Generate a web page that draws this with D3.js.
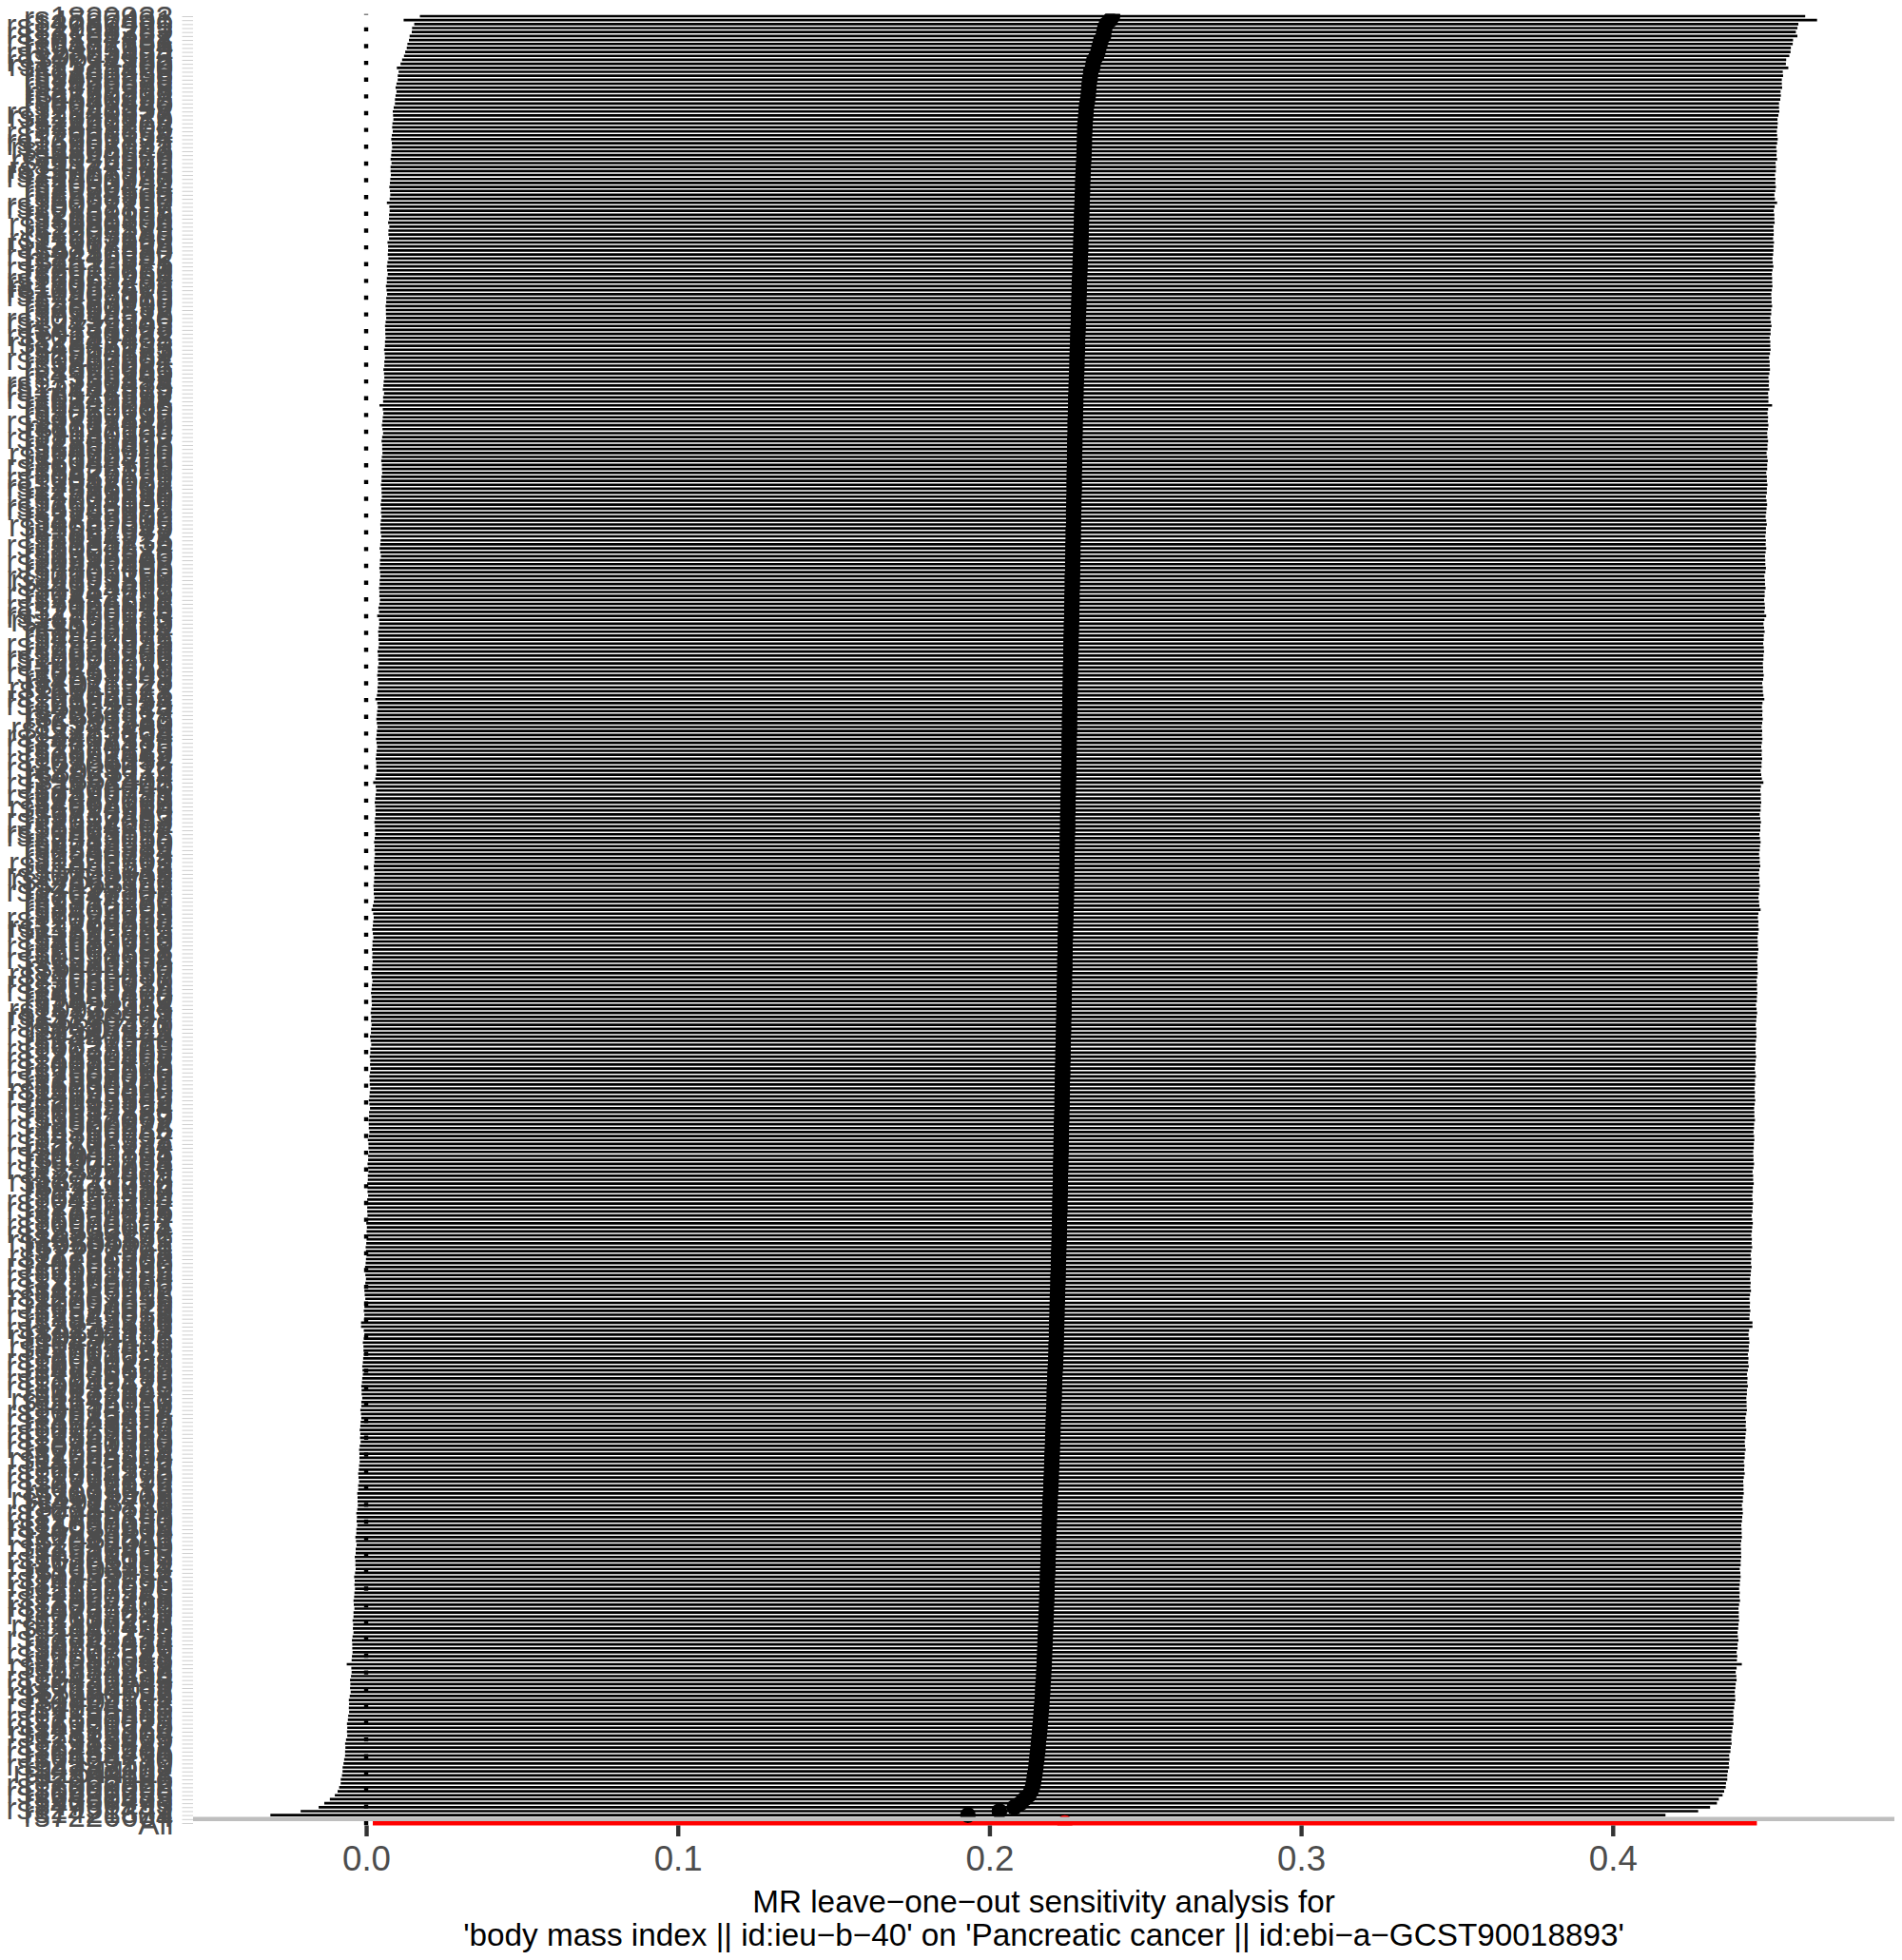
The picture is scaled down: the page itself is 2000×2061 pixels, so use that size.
<!DOCTYPE html>
<html>
<head>
<meta charset="utf-8">
<script src="https://d3js.org/d3.v7.min.js"></script>
<style>
  html, body { margin: 0; padding: 0; background: #fff; }
</style>
</head>
<body>
<svg id="chart" width="2000" height="2061"></svg>
<script>
// leave-one-out results, one entry per SNP, listed from the top of the plot down
const snps = `
rs1820933 rs4787491 rs12286929 rs1928295 rs13191362 rs7164727 rs10182181 rs6477694 rs2365389 rs12885454
rs9641123 rs17724992 rs11583200 rs7141420 rs2245368 rs9400239 rs2033529 rs1460676 rs2176598 rs1167827
rs2820292 rs9540493 rs6091540 rs7243357 rs12940622 rs11688816 rs2121279 rs1441264 rs7899106 rs17001654
rs2836754 rs13201877 rs16907751 rs11165643 rs6804842 rs3849570 rs11126666 rs9374842 rs11727676 rs13078960
rs12401738 rs1000940 rs2080454 rs2050134 rs2274536 rs1558902 rs6567160 rs13021737 rs10938397 rs2867125
rs7132908 rs3101336 rs11030104 rs1808579 rs2207139 rs7903146 rs11672660 rs13107325 rs3817334 rs4256980
rs12446632 rs2112347 rs1516725 rs12016871 rs2075650 rs9925964 rs16851483 rs17094222 rs11057405 rs10968576
rs17405819 rs2287019 rs3888190 rs2650492 rs7599312 rs9914578 rs10132280 rs12429545 rs7138803 rs4771122
rs10150332 rs2241423 rs11847697 rs4836133 rs1514175 rs2890652 rs10767664 rs3810291 rs1805081 rs6265
rs4929949 rs7359397 rs13130484 rs17782313 rs12444979 rs571312 rs10146997 rs6548238 rs1421085 rs9939609
rs8050136 rs3751812 rs17817449 rs1121980 rs7193144 rs9930506 rs12149832 rs1861868 rs2388405 rs6499640
rs11075990 rs7190492 rs8044769 rs16952520 rs3826169 rs1477196 rs10852521 rs2042031 rs17818902 rs12596638
rs4783819 rs7201850 rs1074631 rs12598109 rs16945088 rs2192872 rs3785909 rs4889606 rs11642015 rs9922047
rs1362572 rs2034278 rs7185735 rs13334214 rs8061518 rs2302673 rs1558840 rs10519302 rs4432486 rs7566605
rs2605100 rs10195252 rs11191560 rs4923461 rs2984618 rs10742752 rs1412239 rs7124681 rs17066846 rs2229616
rs12970134 rs17700633 rs11152213 rs663129 rs8089364 rs1942872 rs4450871 rs7227255 rs12955983 rs2331841
rs9636266 rs17066866 rs10871777 rs2229615 rs476828 rs10353201 rs7591849 rs4671328 rs1011527 rs11676272
rs6752378 rs10165541 rs2384054 rs10929925 rs4854344 rs7561317 rs2867113 rs939583 rs6548240 rs11127485
rs3755804 rs13412194 rs4402589 rs12714415 rs1370176 rs2861685 rs7581442 rs10185054 rs6706213 rs17203016
rs3923113 rs4851274 rs1861411 rs13383405 rs2176040 rs7596758 rs10496731 rs2287077 rs4663760 rs11694914
rs6719980 rs3736485 rs12617233 rs2384087 rs1374204 rs10865612 rs13423155 rs7585056 rs6713510 rs4234589
rs6545814 rs2290733 rs9308762 rs11899591 rs1443512 rs7606782 rs10208649 rs17511102 rs2168711 rs4854349
rs13078807 rs7647305 rs1514176 rs9816226 rs3736503 rs1403698 rs6795735 rs17024258 rs2276824 rs11708067
rs13322435 rs1516728 rs7628093 rs4686696 rs12639787 rs2604808 rs9851581 rs10510554 rs1316952 rs6441170
rs3806450 rs11925057 rs7636717 rs13065010 rs2035935 rs17309874 rs4683466 rs9848170 rs1454687 rs2131354
rs10938411 rs11723489 rs13146907 rs4235327 rs7689420 rs2307111 rs10517844 rs1440372 rs3797580 rs6827223
rs17035289 rs2272903 rs13130407 rs4975168 rs10023823 rs1396506 rs7668810 rs12507026 rs2584766 rs6850524
rs11096402 rs4699030 rs13143545 rs2035562 rs7695154 rs10034228 rs1817883 rs6832769 rs3822072 rs12500824
rs206936 rs9356744 rs4712652 rs13198397 rs2206734 rs7759742 rs10946808 rs1011731 rs6905288 rs9470794
rs12206087 rs2844479 rs7773004 rs13211813 rs4711750 rs9379084 rs1294410 rs6457374 rs10456294 rs2237892
rs17148468 rs7780855 rs1055144 rs6974361 rs10950651 rs2908004 rs12539171 rs4722166 rs13236611 rs9691171
rs7797261 rs2282978 rs11768582 rs4731702 rs10808860 rs1561939 rs6951245 rs17172924 rs2303759 rs13269006
rs7826222 rs4735692 rs11787216 rs2293855 rs10097015 rs6994076 rs1379871 rs12549058 rs7845219 rs2254331
rs13274559 rs4841132 rs10104113 rs1480616 rs6474335 rs11777461 rs2001945 rs7012637 rs12680241 rs9987289
rs10968123 rs4740619 rs1928296 rs13298176 rs7042428 rs10812125 rs2183947 rs6477628 rs11142387 rs1556036
rs7874157 rs10818854 rs2815752 rs13283456 rs4743930 rs1928327 rs10733682 rs7867829 rs12347913 rs3750390
rs10761765 rs2254297 rs7088364 rs11594206 rs4748842 rs1885192 rs10887578 rs7914212 rs12779790 rs2296172
rs10883916 rs1171612 rs7095572 rs11191409 rs4918711 rs2116830 rs10786162 rs7918141 rs12782350 rs1887630
rs11030089 rs4923464 rs10835210 rs7481311 rs2049045 rs11037909 rs1519480 rs7939893 rs10501087 rs6265189
rs11603334 rs7103411 rs1955337 rs10838738 rs4752856 rs11231693 rs2167270 rs7929543 rs12800768 rs3824755
rs11057401 rs4765219 rs10773049 rs2638281 rs7307277 rs11170468 rs1443749 rs7962239 rs12823128 rs3741414
rs9568867 rs4772229 rs10507349 rs1555543 rs7985041 rs11619319 rs2354938 rs9571486 rs12429634 rs1886443
rs10132239 rs7144011 rs11620592 rs4903189 rs2401172 rs10144553 rs1956851 rs7155819 rs12885467 rs2180029
rs16951275 rs4776970 rs11852364 rs2415065 rs7183479 rs12913832 rs1441271 rs10152466 rs6494730 rs2929270
rs12597579 rs4788102 rs11644111 rs2303108 rs7205986 rs12922522 rs1000096 rs10521296 rs6499653 rs2650478
rs4796793 rs12951442 rs1421321 rs7226604
`.trim().split(/\s+/);

// causal estimate with that SNP left out
const b = [
  0.2395, 0.2388, 0.2375, 0.2370, 0.2367, 0.2366, 0.2358, 0.2355, 0.2351, 0.2348,
  0.2344, 0.2336, 0.2333, 0.2331, 0.2325, 0.2324, 0.2322, 0.2320, 0.2319, 0.2318,
  0.2317, 0.2315, 0.2313, 0.2311, 0.2310, 0.2309, 0.2308, 0.2307, 0.2306, 0.2306,
  0.2305, 0.2305, 0.2305, 0.2304, 0.2304, 0.2303, 0.2303, 0.2302, 0.2301, 0.2301,
  0.2300, 0.2300, 0.2299, 0.2299, 0.2299, 0.2298, 0.2298, 0.2297, 0.2297, 0.2296,
  0.2296, 0.2296, 0.2295, 0.2295, 0.2294, 0.2294, 0.2294, 0.2293, 0.2293, 0.2293,
  0.2292, 0.2292, 0.2291, 0.2291, 0.2290, 0.2290, 0.2289, 0.2289, 0.2288, 0.2288,
  0.2288, 0.2287, 0.2287, 0.2287, 0.2286, 0.2286, 0.2285, 0.2285, 0.2285, 0.2284,
  0.2284, 0.2283, 0.2283, 0.2283, 0.2282, 0.2282, 0.2281, 0.2281, 0.2281, 0.2280,
  0.2280, 0.2279, 0.2279, 0.2278, 0.2278, 0.2278, 0.2277, 0.2277, 0.2277, 0.2276,
  0.2276, 0.2276, 0.2275, 0.2275, 0.2275, 0.2275, 0.2274, 0.2274, 0.2274, 0.2274,
  0.2273, 0.2273, 0.2273, 0.2273, 0.2273, 0.2272, 0.2272, 0.2272, 0.2272, 0.2272,
  0.2272, 0.2271, 0.2271, 0.2271, 0.2271, 0.2270, 0.2270, 0.2270, 0.2270, 0.2269,
  0.2269, 0.2269, 0.2269, 0.2268, 0.2268, 0.2268, 0.2268, 0.2267, 0.2267, 0.2267,
  0.2267, 0.2266, 0.2266, 0.2266, 0.2266, 0.2265, 0.2265, 0.2265, 0.2265, 0.2264,
  0.2264, 0.2264, 0.2264, 0.2263, 0.2263, 0.2263, 0.2262, 0.2262, 0.2262, 0.2262,
  0.2261, 0.2261, 0.2261, 0.2261, 0.2260, 0.2260, 0.2260, 0.2260, 0.2259, 0.2259,
  0.2259, 0.2259, 0.2258, 0.2258, 0.2258, 0.2258, 0.2257, 0.2257, 0.2257, 0.2257,
  0.2257, 0.2256, 0.2256, 0.2256, 0.2256, 0.2256, 0.2255, 0.2255, 0.2255, 0.2255,
  0.2254, 0.2254, 0.2254, 0.2253, 0.2253, 0.2253, 0.2253, 0.2252, 0.2252, 0.2252,
  0.2252, 0.2251, 0.2251, 0.2251, 0.2251, 0.2251, 0.2250, 0.2250, 0.2250, 0.2250,
  0.2249, 0.2249, 0.2249, 0.2249, 0.2249, 0.2248, 0.2248, 0.2248, 0.2248, 0.2248,
  0.2247, 0.2247, 0.2247, 0.2247, 0.2246, 0.2246, 0.2245, 0.2245, 0.2245, 0.2244,
  0.2244, 0.2244, 0.2244, 0.2243, 0.2243, 0.2243, 0.2243, 0.2242, 0.2242, 0.2242,
  0.2242, 0.2241, 0.2241, 0.2241, 0.2241, 0.2240, 0.2240, 0.2240, 0.2240, 0.2239,
  0.2239, 0.2239, 0.2239, 0.2238, 0.2238, 0.2238, 0.2238, 0.2237, 0.2237, 0.2237,
  0.2236, 0.2236, 0.2236, 0.2236, 0.2235, 0.2235, 0.2235, 0.2235, 0.2234, 0.2234,
  0.2234, 0.2234, 0.2233, 0.2233, 0.2233, 0.2233, 0.2232, 0.2232, 0.2232, 0.2231,
  0.2231, 0.2231, 0.2231, 0.2230, 0.2230, 0.2230, 0.2230, 0.2229, 0.2229, 0.2229,
  0.2229, 0.2228, 0.2228, 0.2228, 0.2228, 0.2227, 0.2227, 0.2227, 0.2226, 0.2226,
  0.2226, 0.2226, 0.2225, 0.2225, 0.2225, 0.2225, 0.2224, 0.2224, 0.2224, 0.2223,
  0.2223, 0.2222, 0.2222, 0.2222, 0.2221, 0.2221, 0.2221, 0.2220, 0.2220, 0.2220,
  0.2219, 0.2219, 0.2218, 0.2218, 0.2218, 0.2217, 0.2217, 0.2217, 0.2216, 0.2216,
  0.2216, 0.2215, 0.2215, 0.2215, 0.2214, 0.2214, 0.2214, 0.2213, 0.2213, 0.2212,
  0.2212, 0.2211, 0.2210, 0.2210, 0.2209, 0.2209, 0.2208, 0.2208, 0.2208, 0.2207,
  0.2207, 0.2206, 0.2206, 0.2205, 0.2205, 0.2204, 0.2204, 0.2204, 0.2203, 0.2203,
  0.2202, 0.2202, 0.2201, 0.2201, 0.2200, 0.2200, 0.2199, 0.2199, 0.2198, 0.2198,
  0.2197, 0.2197, 0.2196, 0.2195, 0.2195, 0.2194, 0.2194, 0.2193, 0.2193, 0.2192,
  0.2192, 0.2191, 0.2191, 0.2190, 0.2190, 0.2190, 0.2189, 0.2189, 0.2188, 0.2188,
  0.2188, 0.2187, 0.2187, 0.2186, 0.2186, 0.2185, 0.2185, 0.2185, 0.2184, 0.2184,
  0.2183, 0.2183, 0.2182, 0.2182, 0.2181, 0.2181, 0.2180, 0.2180, 0.2179, 0.2179,
  0.2178, 0.2178, 0.2177, 0.2177, 0.2176, 0.2176, 0.2175, 0.2174, 0.2174, 0.2173,
  0.2172, 0.2171, 0.2171, 0.2170, 0.2169, 0.2168, 0.2167, 0.2166, 0.2165, 0.2164,
  0.2163, 0.2162, 0.2161, 0.2160, 0.2158, 0.2157, 0.2156, 0.2155, 0.2153, 0.2152,
  0.2150, 0.2149, 0.2147, 0.2145, 0.2143, 0.2141, 0.2138, 0.2133, 0.2126, 0.2112,
  0.2100, 0.2080, 0.2032, 0.1931
];

// standard errors (bars run b +/- 1.96 se)
const se = [
  0.1134, 0.1157, 0.1133, 0.1134, 0.1133, 0.1136, 0.1133, 0.1134, 0.1133, 0.1134,
  0.1134, 0.1133, 0.1134, 0.1139, 0.1133, 0.1134, 0.1133, 0.1134, 0.1135, 0.1133,
  0.1134, 0.1134, 0.1133, 0.1134, 0.1135, 0.1134, 0.1133, 0.1134, 0.1134, 0.1133,
  0.1134, 0.1135, 0.1134, 0.1133, 0.1134, 0.1134, 0.1135, 0.1133, 0.1134, 0.1134,
  0.1133, 0.1134, 0.1134, 0.1135, 0.1134, 0.1133, 0.1134, 0.1138, 0.1134, 0.1133,
  0.1134, 0.1134, 0.1135, 0.1133, 0.1134, 0.1134, 0.1133, 0.1135, 0.1134, 0.1134,
  0.1134, 0.1133, 0.1134, 0.1135, 0.1134, 0.1133, 0.1134, 0.1134, 0.1135, 0.1134,
  0.1133, 0.1134, 0.1134, 0.1135, 0.1134, 0.1134, 0.1133, 0.1134, 0.1135, 0.1134,
  0.1134, 0.1133, 0.1134, 0.1134, 0.1135, 0.1134, 0.1133, 0.1134, 0.1134, 0.1135,
  0.1134, 0.1133, 0.1134, 0.1134, 0.1135, 0.1133, 0.1134, 0.1134, 0.1140, 0.1134,
  0.1133, 0.1134, 0.1134, 0.1135, 0.1134, 0.1133, 0.1134, 0.1135, 0.1134, 0.1134,
  0.1133, 0.1134, 0.1135, 0.1134, 0.1134, 0.1133, 0.1134, 0.1134, 0.1135, 0.1134,
  0.1134, 0.1133, 0.1134, 0.1135, 0.1134, 0.1134, 0.1133, 0.1134, 0.1135, 0.1134,
  0.1134, 0.1133, 0.1134, 0.1134, 0.1135, 0.1134, 0.1133, 0.1134, 0.1134, 0.1135,
  0.1134, 0.1133, 0.1134, 0.1134, 0.1135, 0.1134, 0.1134, 0.1133, 0.1134, 0.1135,
  0.1134, 0.1137, 0.1134, 0.1133, 0.1134, 0.1135, 0.1134, 0.1134, 0.1133, 0.1134,
  0.1135, 0.1134, 0.1134, 0.1133, 0.1134, 0.1134, 0.1135, 0.1134, 0.1133, 0.1134,
  0.1134, 0.1135, 0.1137, 0.1134, 0.1133, 0.1134, 0.1134, 0.1135, 0.1134, 0.1133,
  0.1134, 0.1134, 0.1135, 0.1134, 0.1133, 0.1134, 0.1134, 0.1135, 0.1134, 0.1134,
  0.1133, 0.1134, 0.1135, 0.1138, 0.1134, 0.1133, 0.1134, 0.1134, 0.1135, 0.1134,
  0.1134, 0.1133, 0.1134, 0.1135, 0.1134, 0.1134, 0.1133, 0.1134, 0.1135, 0.1134,
  0.1134, 0.1133, 0.1134, 0.1134, 0.1135, 0.1134, 0.1133, 0.1134, 0.1134, 0.1135,
  0.1134, 0.1134, 0.1133, 0.1134, 0.1135, 0.1137, 0.1134, 0.1133, 0.1134, 0.1134,
  0.1135, 0.1134, 0.1133, 0.1134, 0.1134, 0.1135, 0.1134, 0.1134, 0.1133, 0.1134,
  0.1134, 0.1135, 0.1134, 0.1133, 0.1134, 0.1134, 0.1135, 0.1134, 0.1134, 0.1133,
  0.1134, 0.1135, 0.1134, 0.1134, 0.1133, 0.1134, 0.1134, 0.1135, 0.1134, 0.1133,
  0.1134, 0.1134, 0.1135, 0.1134, 0.1134, 0.1133, 0.1134, 0.1135, 0.1134, 0.1134,
  0.1133, 0.1134, 0.1134, 0.1135, 0.1134, 0.1133, 0.1134, 0.1134, 0.1135, 0.1134,
  0.1134, 0.1133, 0.1134, 0.1135, 0.1134, 0.1134, 0.1133, 0.1134, 0.1134, 0.1135,
  0.1134, 0.1133, 0.1134, 0.1134, 0.1135, 0.1134, 0.1134, 0.1133, 0.1134, 0.1135,
  0.1134, 0.1134, 0.1133, 0.1134, 0.1135, 0.1134, 0.1134, 0.1133, 0.1134, 0.1134,
  0.1135, 0.1134, 0.1133, 0.1134, 0.1134, 0.1135, 0.1134, 0.1134, 0.1133, 0.1134,
  0.1134, 0.1135, 0.1134, 0.1133, 0.1134, 0.1134, 0.1135, 0.1134, 0.1134, 0.1139,
  0.1139, 0.1134, 0.1133, 0.1134, 0.1135, 0.1134, 0.1134, 0.1133, 0.1134, 0.1134,
  0.1135, 0.1134, 0.1133, 0.1134, 0.1134, 0.1135, 0.1134, 0.1134, 0.1133, 0.1134,
  0.1134, 0.1135, 0.1134, 0.1133, 0.1134, 0.1134, 0.1135, 0.1134, 0.1134, 0.1133,
  0.1134, 0.1135, 0.1134, 0.1134, 0.1133, 0.1134, 0.1134, 0.1135, 0.1134, 0.1133,
  0.1134, 0.1134, 0.1135, 0.1134, 0.1134, 0.1133, 0.1134, 0.1135, 0.1134, 0.1134,
  0.1133, 0.1134, 0.1134, 0.1135, 0.1134, 0.1133, 0.1134, 0.1134, 0.1135, 0.1134,
  0.1134, 0.1133, 0.1134, 0.1135, 0.1134, 0.1134, 0.1133, 0.1134, 0.1134, 0.1135,
  0.1134, 0.1133, 0.1134, 0.1134, 0.1135, 0.1134, 0.1134, 0.1133, 0.1134, 0.1135,
  0.1134, 0.1134, 0.1133, 0.1134, 0.1134, 0.1142, 0.1134, 0.1133, 0.1134, 0.1135,
  0.1134, 0.1134, 0.1133, 0.1134, 0.1135, 0.1134, 0.1134, 0.1133, 0.1134, 0.1134,
  0.1135, 0.1134, 0.1134, 0.1133, 0.1134, 0.1135, 0.1134, 0.1134, 0.1133, 0.1134,
  0.1134, 0.1135, 0.1134, 0.1134, 0.1135, 0.1134, 0.1135, 0.1135, 0.1136, 0.1137,
  0.1140, 0.1139, 0.1144, 0.1142
];

// the estimate using all SNPs
const allB = 0.2242;
const allSe = 0.1133;

const xTicks = [0.0, 0.1, 0.2, 0.3, 0.4];
const titleLines = [
  "MR leave\u2212one\u2212out sensitivity analysis for",
  "'body mass index || id:ieu\u2212b\u221240' on 'Pancreatic cancer || id:ebi\u2212a\u2212GCST90018893'"
];

if (snps.length !== b.length || b.length !== se.length) {
  console.error("length mismatch", snps.length, b.length, se.length);
}

const W = 2000, H = 2061;
const panel = { left: 203, right: 1992, top: 14.5, bottom: 1919.5 };
const font = "'Liberation Sans', Arial, sans-serif";

const svg = d3.select("#chart");
svg.append("rect").attr("width", W).attr("height", H).attr("fill", "#fff");

const rows = snps.map((s, i) => ({
  snp: s, b: b[i], lo: b[i] - 1.96 * se[i], hi: b[i] + 1.96 * se[i], all: false
}));
const allRow = { snp: "All", b: allB, lo: allB - 1.96 * allSe, hi: allB + 1.96 * allSe, all: true };
const bars = rows.concat([allRow]);

// x range = data range widened by 5% each side, like ggplot
const xmin = d3.min(bars, d => d.lo);
const xmax = d3.max(bars, d => d.hi);
const pad = (xmax - xmin) * 0.05;
const x = d3.scaleLinear().domain([xmin - pad, xmax + pad]).range([panel.left, panel.right]);

// "All" at the bottom, then an empty row, then the SNPs
const y = d3.scalePoint()
  .domain(snps.concat(["", "All"]))
  .range([panel.top, panel.bottom])
  .padding(0.6);

svg.append("clipPath").attr("id", "clip")
  .append("rect")
  .attr("x", panel.left).attr("y", panel.top)
  .attr("width", panel.right - panel.left)
  .attr("height", panel.bottom - panel.top);

const plot = svg.append("g").attr("clip-path", "url(#clip)");

// dotted line at zero
plot.append("line")
  .attr("x1", x(0)).attr("x2", x(0))
  .attr("y1", panel.bottom).attr("y2", panel.top)
  .attr("stroke", "#000")
  .attr("stroke-width", 4.4)
  .attr("stroke-dasharray", "4.4 13.23");

// confidence intervals
plot.append("g")
  .selectAll("line")
  .data(bars)
  .join("line")
  .attr("x1", d => x(d.lo))
  .attr("x2", d => x(d.hi))
  .attr("y1", d => y(d.snp))
  .attr("y2", d => y(d.snp))
  .attr("stroke", d => d.all ? "#FF0000" : "#000000")
  .attr("stroke-width", d => d.all ? 8.9 : 2.67);

// point estimates
plot.append("g")
  .selectAll("circle")
  .data(bars)
  .join("circle")
  .attr("cx", d => x(d.b))
  .attr("cy", d => y(d.snp))
  .attr("r", 8.3)
  .attr("fill", d => d.all ? "#FF0000" : "#000000");

// grey separator on the empty row
plot.append("line")
  .attr("x1", panel.left).attr("x2", panel.right)
  .attr("y1", y("")).attr("y2", y(""))
  .attr("stroke", "#BEBEBE")
  .attr("stroke-width", 4.4);

// x axis
const xAxis = svg.append("g")
  .attr("transform", `translate(0,${panel.bottom})`)
  .call(d3.axisBottom(x).tickValues(xTicks).tickFormat(d3.format(".1f")).tickSize(11.5).tickPadding(10));
xAxis.select(".domain").remove();
xAxis.selectAll(".tick line").attr("stroke", "#333333").attr("stroke-width", 4.4);
xAxis.selectAll(".tick text")
  .attr("fill", "#4D4D4D")
  .attr("font-family", font)
  .attr("font-size", 36.7);

// y axis with the SNP names
const yAxis = svg.append("g")
  .attr("transform", `translate(${panel.left},0)`)
  .call(d3.axisLeft(y).tickSize(11.5).tickPadding(9.2));
yAxis.select(".domain").remove();
yAxis.selectAll(".tick line").attr("stroke", "#CFCFCF").attr("stroke-width", 1);
yAxis.selectAll(".tick text")
  .attr("fill", "#4D4D4D")
  .attr("font-family", font)
  .attr("font-size", 33.3)
  .attr("dy", "0.36em");

// axis title
const title = svg.append("text")
  .attr("text-anchor", "middle")
  .attr("font-family", font)
  .attr("font-size", 33.3)
  .attr("fill", "#000");
titleLines.forEach((t, i) => {
  title.append("tspan")
    .attr("x", (panel.left + panel.right) / 2)
    .attr("y", 2011 + i * 35)
    .text(t);
});
</script>
</body>
</html>
